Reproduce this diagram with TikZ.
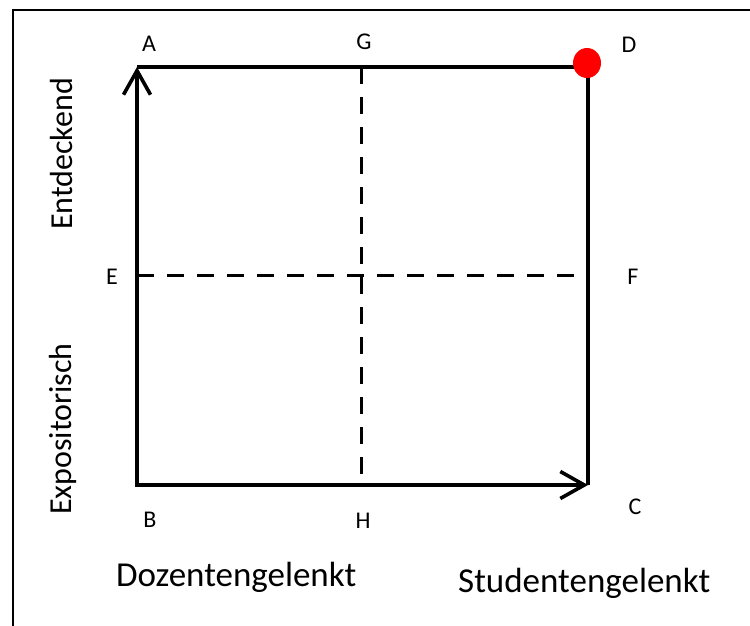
\documentclass[tikz,border=0pt]{standalone}
\usepackage{fontspec}
\setmainfont{Carlito}
\usetikzlibrary{arrows.meta}
\begin{document}
\begin{tikzpicture}[x=1pt,y=-1pt,
  axis/.style={line width=3.6pt},
  axisarrow/.style={line width=3.6pt,-{Straight Barb[length=24pt,width=27pt,line width=3.6pt]}},
  divider/.style={line width=3pt,dash pattern=on 17pt off 13pt},
  pointlabel/.style={font=\fontsize{24}{28}\selectfont,inner sep=0pt},
  sidelabel/.style={font=\fontsize{32}{38}\selectfont,inner sep=0pt,rotate=90,anchor=base},
  bottomlabel/.style={font=\fontsize{35}{42}\selectfont,inner sep=0pt,anchor=base west},
  frameline/.style={line width=2pt}]
\useasboundingbox (0,0) rectangle (750,626);
\fill[white] (0,0) rectangle (750,626);
\draw[frameline] (13,640) -- (13,10) -- (760,10);
% corner coordinates
\coordinate (A) at (137,67);
\coordinate (B) at (137,485);
\coordinate (C) at (588,485);
\coordinate (D) at (588,67);
\coordinate (E) at (137,275);
\coordinate (F) at (588,275);
\coordinate (G) at (361,67);
\coordinate (H) at (361,485);
% dashed dividers
\draw[divider] (E) -- (F);
\draw[divider] (G) -- (H);
% axes and frame
\draw[axisarrow] (B) -- (A);
\draw[axisarrow] (B) -- (C);
\draw[axis,line cap=butt] (A) -- (D) -- (C);
\draw[axis] (B) ++(-1.8,0) -- (B);
% red dot
\fill[red] (587,63) ellipse [x radius=14pt,y radius=15pt];
% point labels
\node[pointlabel] (la) at (149,44) {A};
\node[pointlabel] (lg) at (364,42) {G};
\node[pointlabel] (ld) at (629,45) {D};
\node[pointlabel] (le) at (112,277) {E};
\node[pointlabel] (lf) at (633,277) {F};
\node[pointlabel] (lb) at (150,520) {B};
\node[pointlabel] (lh) at (363,521) {H};
\node[pointlabel] (lc) at (635,507) {C};
% side labels
\node[sidelabel] (ent) at (72,154) {Entdeckend};
\node[sidelabel] (exp) at (71,429) {Expositorisch};
% bottom labels
\node[bottomlabel] (doz) at (116,586) {Dozentengelenkt};
\node[bottomlabel] (stu) at (458,592) {Studentengelenkt};
\end{tikzpicture}
\end{document}
